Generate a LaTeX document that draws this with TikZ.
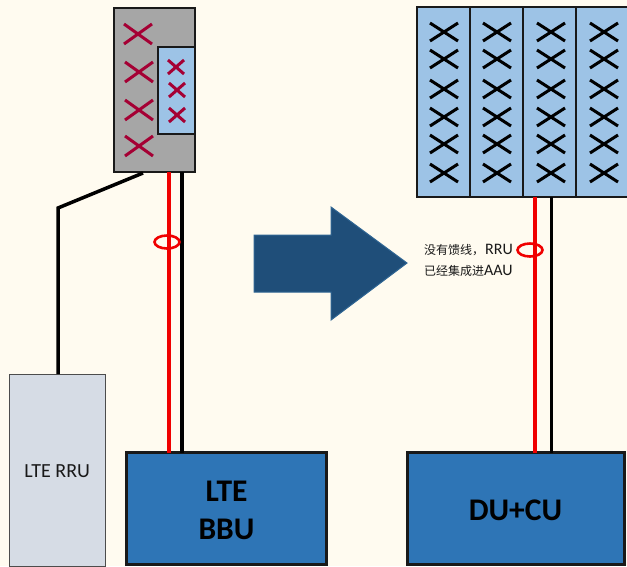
\documentclass[tikz,border=0pt]{standalone}
\usepackage{fontspec}
\setmainfont{Carlito}
\newfontfamily\cjkfont{Noto Sans CJK SC}
\definecolor{bgc}{HTML}{FFFBF0}
\definecolor{grayc}{HTML}{A6A6A6}
\definecolor{lightb}{HTML}{9DC3E6}
\definecolor{midb}{HTML}{2E75B6}
\definecolor{darkb}{HTML}{1F4E79}
\definecolor{arrowedge}{HTML}{2F6593}
\definecolor{rruc}{HTML}{D6DCE5}
\definecolor{crossred}{HTML}{A50034}
\definecolor{feedred}{HTML}{F00000}
\usetikzlibrary{shapes.geometric}
\tikzset{
  boxbase/.style={rectangle,anchor=north west,inner sep=0pt,outer sep=0pt},
  panelbox/.style={boxbase,draw=black!90,line width=2.4pt,fill=grayc},
  antbox/.style={boxbase,draw=black!90,line width=2.4pt,fill=lightb},
  rrubox/.style={boxbase,draw=black!70,line width=1pt,fill=rruc,font=\fontsize{20}{24}\selectfont,text=black!90},
  bbubox/.style={boxbase,draw=black!90,line width=3pt,fill=midb,font=\bfseries\fontsize{31.5}{38}\selectfont,align=center},
  redcross/.style={draw=crossred,line width=3pt},
  blackcross/.style={draw=black,line width=3pt},
  feeder/.style={draw=feedred,line width=4pt},
  jumper/.style={draw=black,line width=3.5pt},
  jumperthin/.style={draw=black,line width=3pt},
  ringmark/.style={ellipse,draw=feedred,line width=2.6pt,minimum width=25pt,minimum height=13pt,inner sep=0pt},
  note/.style={anchor=west,inner sep=0pt,font=\fontsize{12}{14}\selectfont,text=black!90},
  bigarrow/.style={draw=arrowedge,line width=1pt,fill=darkb}
}
\newcommand{\latinpart}[1]{{\fontsize{16}{14}\selectfont #1}}
\newcommand{\nudge}[1]{\raisebox{-1.5pt}[\height][\depth]{#1}}
\begin{document}
\begin{tikzpicture}[x=1pt,y=-1pt]
\useasboundingbox (0,0) rectangle (627,566);
\clip (0,0) rectangle (627,566);
\fill[bgc] (0,0) rectangle (627,566);
% nodes
\node[panelbox,minimum width=81pt,minimum height=164pt] (panel) at (114,8) {};
\node[antbox,minimum width=37pt,minimum height=87pt] (inner) at (158,47) {};
\node[antbox,minimum width=53pt,minimum height=190pt] (a1) at (417,7) {};
\node[antbox,minimum width=53pt,minimum height=190pt] (a2) at (470,7) {};
\node[antbox,minimum width=53pt,minimum height=190pt] (a3) at (523,7) {};
\node[antbox,minimum width=53pt,minimum height=190pt] (a4) at (576,7) {};
\node[rrubox,minimum width=96.5pt,minimum height=192pt] (rru) at (9,374) {\nudge{LTE RRU}};
\node[bbubox,minimum width=200pt,minimum height=112pt] (bbu) at (126.5,452.5) {\nudge{LTE}\\\nudge{BBU}};
\node[bbubox,minimum width=217pt,minimum height=112pt] (du) at (407,452.5) {\nudge{DU+CU}};
% crosses
\foreach \cx/\cy in {138/34,139/72,139/110,139/146}
  \draw[redcross] (\cx-14,\cy-10) -- (\cx+14,\cy+10) (\cx-14,\cy+10) -- (\cx+14,\cy-10);
\foreach \cx/\cy in {176/67,177/90,177/115}
  \draw[redcross] (\cx-8,\cy-7) -- (\cx+8,\cy+7) (\cx-8,\cy+7) -- (\cx+8,\cy-7);
\foreach \cx in {444,497,551,604}
  \foreach \cy in {32,59,89,117,144,173}
    \draw[blackcross] (\cx-14,\cy-9) -- (\cx+14,\cy+9) (\cx-14,\cy+9) -- (\cx+14,\cy-9);
% connectors
\coordinate (xa) at (169,0);
\coordinate (xb) at (182,0);
\coordinate (xc) at (535,0);
\coordinate (xd) at (551,0);
\coordinate (bend) at (58,208);
\coordinate (pout) at (143,173);
\draw[feeder] (panel.south -| xa) -- (bbu.north -| xa);
\draw[jumper] (panel.south -| xb) -- (bbu.north -| xb);
\draw[feeder] (a3.south -| xc) -- (du.north -| xc);
\draw[jumperthin] (a3.south -| xd) -- (du.north -| xd);
\draw[jumper,line join=miter] (pout) -- (bend) -- (rru.north -| bend);
% rings
\node[ringmark] (r1) at (167,242) {};
\node[ringmark] (r2) at (530,250) {};
% arrow
\draw[bigarrow] (254,235) -- (331,235) -- (331,207) -- (407,263) -- (331,320) -- (331,292) -- (254,292) -- cycle;
% notes
\node[note] (n1) at (424,250) {{\cjkfont 没有馈线，}\kern1pt\latinpart{RRU}};
\node[note] (n2) at (424,271) {{\cjkfont 已经集成进}\latinpart{AAU}};
\end{tikzpicture}
\end{document}
